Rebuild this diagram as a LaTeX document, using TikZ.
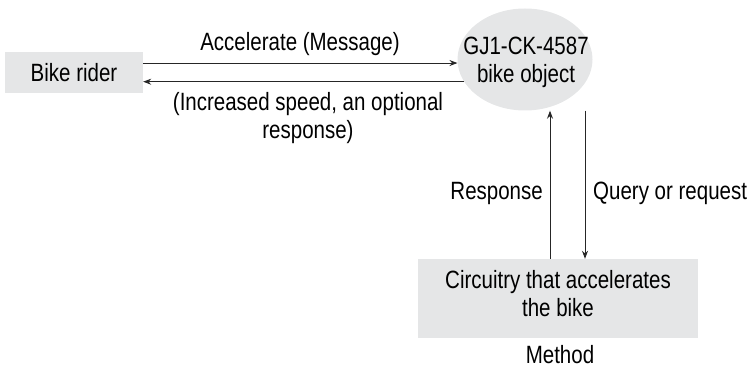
\documentclass[tikz,border=0pt]{standalone}
\usepackage{fontspec}
\setmainfont{Liberation Sans}[FakeStretch=0.82]
\usetikzlibrary{shapes.geometric,arrows.meta}
\definecolor{boxgray}{RGB}{229,230,231}
\tikzset{
  every node/.style={font=\fontsize{25}{28}\selectfont, inner sep=0pt},
  graybox/.style={fill=boxgray, draw=none, rectangle},
  txt/.style={anchor=north, align=center},
  arr/.style={-{Stealth[length=8pt,width=6pt]}, line width=0.9pt, draw=black!85}
}
\begin{document}
\begin{tikzpicture}[x=1pt,y=-1pt]
\useasboundingbox (0,0) rectangle (749,371);
% nodes
\node[graybox, minimum width=138pt, minimum height=41pt] (rider) at (74,73) {Bike rider};
\node[ellipse, fill=boxgray, minimum width=135pt, minimum height=102pt] (obj) at (525,59.5) {};
\node[txt] (objtxt) at (526,37) {GJ1-CK-4587\\bike object};
\node[graybox, minimum width=280pt, minimum height=79pt] (circ) at (558,298.5) {};
\node[txt] (circtxt) at (558,270) {Circuitry that accelerates\\the bike};
\node[txt] (method) at (560,345) {Method};
% labels
\node[txt] (acc) at (300,32) {Accelerate (Message)};
\node[txt] (inc) at (308,92) {(Increased speed, an optional\\response)};
\node[anchor=north east] (resp) at (543,182) {Response};
\node[anchor=north west] (query) at (593,182) {Query or request};
% coordinates for vertical arrows
\coordinate (xu) at (550,0);
\coordinate (xd) at (585,0);
% connectors
\draw[arr] (rider.east |- obj.183) -- (obj.183);
\draw[arr] (obj.200) -- (rider.east |- obj.200);
\draw[arr] (circ.north -| xu) -- (obj.south -| xu);
\draw[arr] (obj.south -| xd) -- (circ.north -| xd);
\end{tikzpicture}
\end{document}
